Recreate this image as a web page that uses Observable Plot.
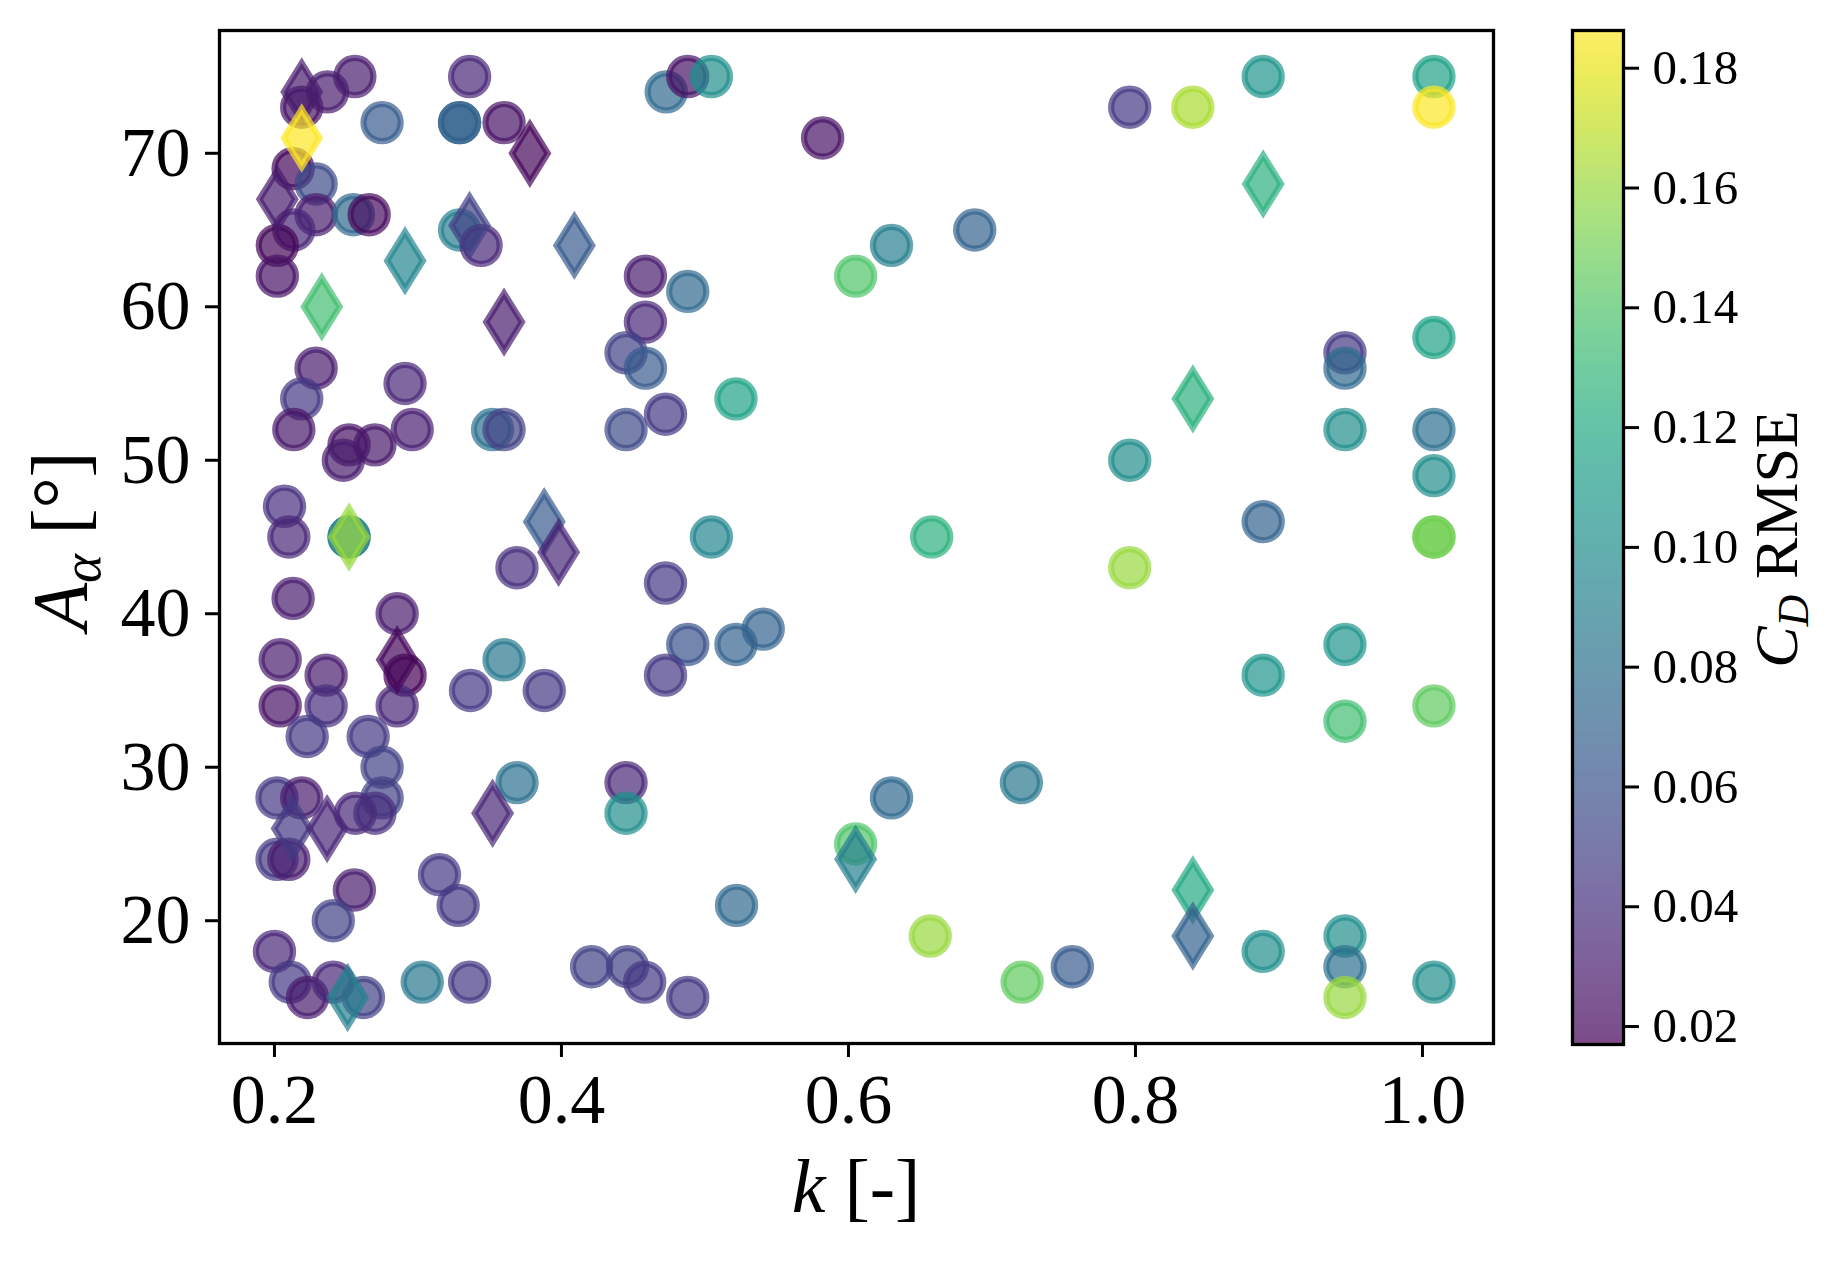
<!DOCTYPE html>
<html><head><meta charset="utf-8">
<script src="https://cdn.jsdelivr.net/npm/d3@7"></script>
<script src="https://cdn.jsdelivr.net/npm/@observablehq/plot@0.6"></script>
<style>
body{margin:0;background:#fff;}
#wrap{position:relative;width:1837px;height:1261px;background:#fff;}
#wrap svg{position:absolute;top:0;}
</style></head><body><div id="wrap"></div>
<script>
// ---- data: circle runs ----
const circleK = [0.219,0.237,0.256,0.275,0.329,0.329,0.336,0.360,0.213,0.229,0.229,0.2135,0.255,0.266,0.202,0.202,0.329,0.344,0.229,0.219,0.291,0.2135,0.252,0.248,0.270,0.296,0.352,0.360,0.207,0.210,0.252,0.252,0.369,0.213,0.2855,0.291,0.204,0.236,0.204,0.236,0.2855,0.2228,0.2653,0.3366,0.360,0.388,0.275,0.275,0.2018,0.219,0.2564,0.270,0.2018,0.210,0.369,0.445,0.445,0.2557,0.315,0.328,0.241,0.200,0.211,0.223,0.241,0.262,0.303,0.336,0.421,0.446,0.458,0.488,0.522,0.473,0.488,0.5045,0.582,0.796,0.840,0.889,0.688,0.630,0.605,0.4585,0.488,0.4585,0.445,0.4585,0.5216,0.4725,0.445,0.796,0.889,0.5045,0.658,0.796,0.4725,0.488,0.5216,0.5406,0.4725,0.889,0.630,0.7205,0.605,0.657,0.721,0.756,0.889,0.946,0.946,0.946,1.008,0.946,0.946,1.008,1.008,1.008,1.008,1.008,1.008,0.946,0.946,0.946,1.008,1.008];
const circleA = [73,74,75,72,72,72,75,72,69,68,66,65,66,66,64,62,65,64,56,54,55,52,51,50,51,52,52,52,47,45,45,45,43,41,40,36,37,36,34,34,34,32,32,35,37,35,30,28,28,28,27,27,24,24,29,29,27,22,23,21,20,18,16,15,16,15,16,16,17,17,16,15,21,74,75,75,71,73,73,75,65,64,62,62,61,59,57,56,54,53,52,50,46,45,45,43,42,38,38,39,36,36,28,29,25,19,16,17,18,19,17,15,16,33,38,34,45,45,49,52,58,57,56,52,75,73];
const circleRMSE = [0.025,0.03,0.03,0.065,0.07,0.07,0.035,0.025,0.02,0.055,0.03,0.035,0.075,0.022,0.02,0.025,0.09,0.035,0.03,0.045,0.035,0.028,0.025,0.03,0.028,0.032,0.08,0.05,0.04,0.035,0.09,0.09,0.04,0.03,0.03,0.018,0.03,0.03,0.025,0.04,0.035,0.045,0.045,0.045,0.085,0.045,0.05,0.05,0.045,0.03,0.035,0.04,0.045,0.03,0.08,0.035,0.1,0.03,0.045,0.045,0.05,0.035,0.045,0.03,0.035,0.05,0.085,0.045,0.05,0.05,0.045,0.045,0.075,0.075,0.025,0.1,0.025,0.045,0.165,0.105,0.07,0.09,0.14,0.03,0.075,0.035,0.05,0.065,0.115,0.045,0.055,0.1,0.07,0.095,0.125,0.16,0.045,0.06,0.07,0.07,0.045,0.105,0.075,0.085,0.14,0.16,0.145,0.065,0.1,0.1,0.08,0.16,0.1,0.135,0.105,0.145,0.15,0.15,0.1,0.08,0.115,0.045,0.075,0.1,0.115,0.185];
// ---- data: diamond runs ----
const diamondK = [0.219,0.219,0.378,0.202,0.336,0.409,0.291,0.233,0.360,0.252,0.388,0.398,0.2855,0.2123,0.2367,0.352,0.251,0.605,0.889,0.840,0.840,0.840];
const diamondA = [74,71,70,67,65.3,64,63,60,59,45,46,44,37,26,26,27,15,24,68,54,22,19];
const diamondRMSE = [0.03,0.186,0.02,0.03,0.05,0.065,0.095,0.135,0.03,0.16,0.065,0.035,0.02,0.045,0.035,0.035,0.09,0.09,0.125,0.125,0.12,0.07];
// ---- axes ----
const xTicks = [0.2,0.4,0.6,0.8,1.0];
const yTicks = [20,30,40,50,60,70];
const cTicks = [0.02,0.04,0.06,0.08,0.10,0.12,0.14,0.16,0.18];
const xDomain = [0.1617,1.0495];
const yDomain = [12,78];
const cDomain = [0.017,0.1863];

const FONT = "'Liberation Serif', 'DejaVu Serif', serif";
const circles = circleK.map((k,i)=>({k, a: circleA[i], c: circleRMSE[i]}));
const diamonds = diamondK.map((k,i)=>({k, a: diamondA[i], c: diamondRMSE[i]}));

const thinDiamond = {draw(ctx, size){
  const r = Math.sqrt(size/Math.PI); const h = r*1.55, w = h*0.62;
  ctx.moveTo(0,-h); ctx.lineTo(w,0); ctx.lineTo(0,h); ctx.lineTo(-w,0); ctx.closePath();
}};

const colorOpt = {type:"linear", scheme:"viridis", domain:cDomain};

const main = Plot.plot({
  width:1837, height:1261,
  marginLeft:219, marginRight:344, marginTop:30, marginBottom:218,
  style:{fontFamily:FONT, background:"transparent", color:"#000"},
  x:{domain:xDomain},
  y:{domain:yDomain},
  color:colorOpt,
  marks:[
    Plot.dot(circles,{x:"k", y:"a", r:18.6, fill:"c", stroke:"c", fillOpacity:0.7, strokeOpacity:0.7, strokeWidth:6.2}),
    Plot.dot(diamonds,{x:"k", y:"a", r:18.6, symbol:thinDiamond, fill:"c", stroke:"c", fillOpacity:0.7, strokeOpacity:0.7, strokeWidth:6.2}),
    Plot.frame({stroke:"#000", strokeWidth:3.3}),
    Plot.axisX({ticks:xTicks, tickSize:14, tickPadding:16, strokeWidth:3, fontSize:70, tickFormat:d3.format(".1f"), label:null}),
    Plot.axisY({ticks:yTicks, tickSize:14, tickPadding:15, strokeWidth:3, fontSize:70, tickFormat:d3.format("d"), label:null})
  ]
});

// colorbar
const nStops = 200;
const stops = d3.range(nStops).map(i=>{
  const a = cDomain[0] + (cDomain[1]-cDomain[0])*i/nStops;
  const b = cDomain[0] + (cDomain[1]-cDomain[0])*(i+1)/nStops;
  return {a, b, m:(a+b)/2};
});
const cbar = Plot.plot({
  width:297, height:1261,
  marginLeft:32, marginRight:214, marginTop:30, marginBottom:217,
  style:{fontFamily:FONT, background:"transparent", color:"#000"},
  x:{domain:[0,1], axis:null},
  y:{domain:cDomain},
  color:colorOpt,
  marks:[
    Plot.rect(stops,{x1:0, x2:1, y1:"a", y2:"b", fill:"m", inset:-0.4, className:"cbramp"}),
    Plot.frame({stroke:"#000", strokeWidth:3.3}),
    Plot.axisY({anchor:"right", ticks:cTicks, tickSize:15, tickPadding:14, strokeWidth:3, fontSize:49, tickFormat:d3.format(".2f"), label:null})
  ]
});
cbar.style.left = "1540px";

const wrap = document.getElementById("wrap");
wrap.appendChild(main);
wrap.appendChild(cbar);
d3.select(cbar).selectAll(".cbramp").style("opacity",0.7);

// labels
const ms = d3.select(main);
const xl = ms.append("text").attr("x",856).attr("y",1212).attr("text-anchor","middle")
  .attr("font-size",76).attr("font-family",FONT).attr("fill","#000");
xl.append("tspan").attr("font-style","italic").text("k");
xl.append("tspan").text(" [-]");

const yl = ms.append("text").attr("transform","translate(86,541) rotate(-90)").attr("text-anchor","middle")
  .attr("font-size",78).attr("font-family",FONT).attr("fill","#000");
yl.append("tspan").attr("font-style","italic").text("A");
yl.append("tspan").attr("font-style","italic").attr("font-size",55).attr("dy",14).text("α");
yl.append("tspan").attr("dy",-14).text(" [°]");

const cs = d3.select(cbar);
const cl = cs.append("text").attr("transform",`translate(${1797-1540},539) rotate(-90)`).attr("text-anchor","middle")
  .attr("font-size",62).attr("font-family",FONT).attr("fill","#000");
cl.append("tspan").attr("font-style","italic").text("C");
cl.append("tspan").attr("font-style","italic").attr("font-size",44).attr("dy",11).text("D");
cl.append("tspan").attr("dy",-11).text(" RMSE");
</script></body></html>
